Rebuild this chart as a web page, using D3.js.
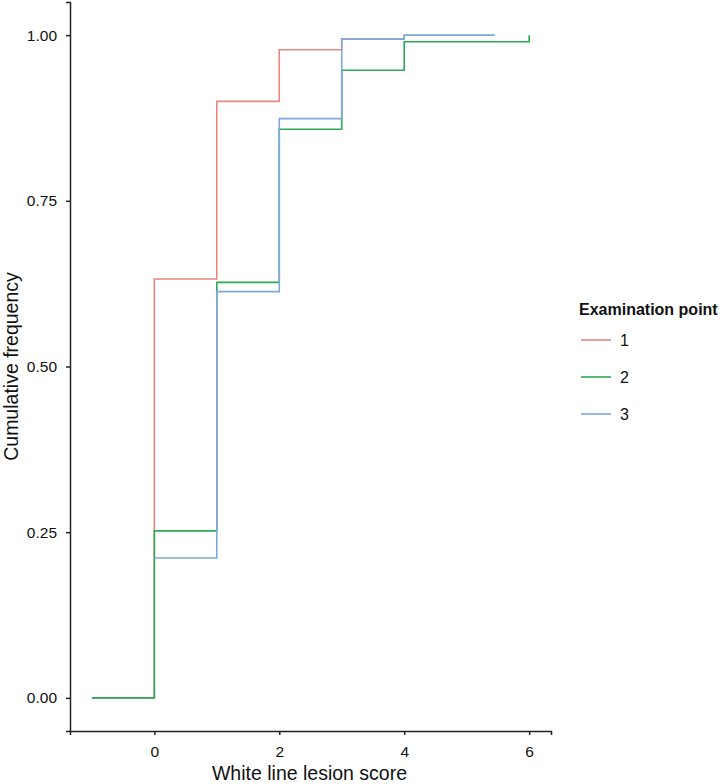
<!DOCTYPE html>
<html><head><meta charset="utf-8">
<script src="https://cdnjs.cloudflare.com/ajax/libs/d3/7.8.5/d3.min.js"></script>
<style>body{margin:0;background:#fff;}svg{display:block;font-family:"Liberation Sans",Arial,sans-serif;}</style>
</head><body><div id="chart"></div>
<script>
// Data: step (ECDF) points for each examination point
const seriesNames = ["1", "2", "3"];
const colors = ["#E8877F", "#2BAA55", "#7EA8DB"];
const x1 = [-1, 0, 1, 2, 3, 4];
const y1 = [0, 0.632, 0.900, 0.978, 0.994, 1.0];
const x2 = [-1, 0, 1, 2, 3, 4, 6];
const y2 = [0, 0.252, 0.627, 0.858, 0.947, 0.990, 1.0];
const x3 = [0, 1, 2, 3, 4, 5.45];
const y3 = [0.211, 0.613, 0.874, 0.994, 1.0, 1.0];
const xTicks = [0, 2, 4, 6];
const yTicks = [0, 0.25, 0.5, 0.75, 1.0];
const xTitle = "White line lesion score";
const yTitle = "Cumulative frequency";
const legendTitle = "Examination point";

const series = [
  {name: seriesNames[0], color: colors[0], pts: x1.map((x, i) => ({x, y: y1[i]}))},
  {name: seriesNames[1], color: colors[1], pts: x2.map((x, i) => ({x, y: y2[i]}))},
  {name: seriesNames[2], color: colors[2], pts: x3.map((x, i) => ({x, y: y3[i]}))}
];

const W = 722, H = 784;
const m = {left: 70, top: 2, right: 171, bottom: 53};
const svg = d3.select("#chart").append("svg").attr("width", W).attr("height", H);

const x = d3.scaleLinear().domain([-1.35, 6.35]).range([m.left, W - m.right]);
const y = d3.scaleLinear().domain([-0.05, 1.05]).range([H - m.bottom, m.top]);

const line = d3.line().x(d => x(d.x)).y(d => y(d.y)).curve(d3.curveStepAfter);
svg.append("g").selectAll("path").data(series).join("path")
  .attr("d", d => line(d.pts))
  .attr("fill", "none").attr("stroke", d => d.color).attr("stroke-width", 1.6);

const xAxis = svg.append("g").attr("transform", `translate(0,${H - m.bottom})`)
  .call(d3.axisBottom(x).tickValues(xTicks).tickFormat(d3.format("d")).tickSizeOuter(0).tickSize(4).tickPadding(11));
const yAxis = svg.append("g").attr("transform", `translate(${m.left},0)`)
  .call(d3.axisLeft(y).tickValues(yTicks).tickFormat(d3.format(".2f")).tickSizeOuter(0).tickSize(4).tickPadding(9));
[xAxis, yAxis].forEach(a => {
  a.select(".domain").attr("stroke", "#222").attr("stroke-width", 1.5);
  a.selectAll(".tick line").attr("stroke", "#222").attr("stroke-width", 1.5);
  a.selectAll(".tick text").attr("fill", "#111").style("font-size", "15.5px").style("font-family", "Liberation Sans, Arial, sans-serif");
});

svg.append("text").attr("x", (m.left + W - m.right) / 2 - 1).attr("y", 780)
  .attr("text-anchor", "middle").style("font-size", "19.5px").attr("fill", "#111").text(xTitle);
svg.append("text").attr("transform", `translate(18,${(m.top + H - m.bottom) / 2}) rotate(-90)`)
  .attr("text-anchor", "middle").style("font-size", "19.5px").attr("fill", "#111").text(yTitle);

const lg = svg.append("g");
lg.append("text").attr("x", 579).attr("y", 315).style("font-size", "16px").style("font-weight", "bold")
  .attr("fill", "#111").text(legendTitle);
const items = lg.selectAll("g.item").data(series).join("g").attr("class", "item")
  .attr("transform", (d, i) => `translate(0,${340 + i * 37})`);
items.append("line").attr("x1", 581).attr("x2", 611).attr("y1", 0).attr("y2", 0)
  .attr("stroke", d => d.color).attr("stroke-width", 1.6);
items.append("text").attr("x", 620).attr("y", 6).style("font-size", "16px").attr("fill", "#111").text(d => d.name);
</script></body></html>
